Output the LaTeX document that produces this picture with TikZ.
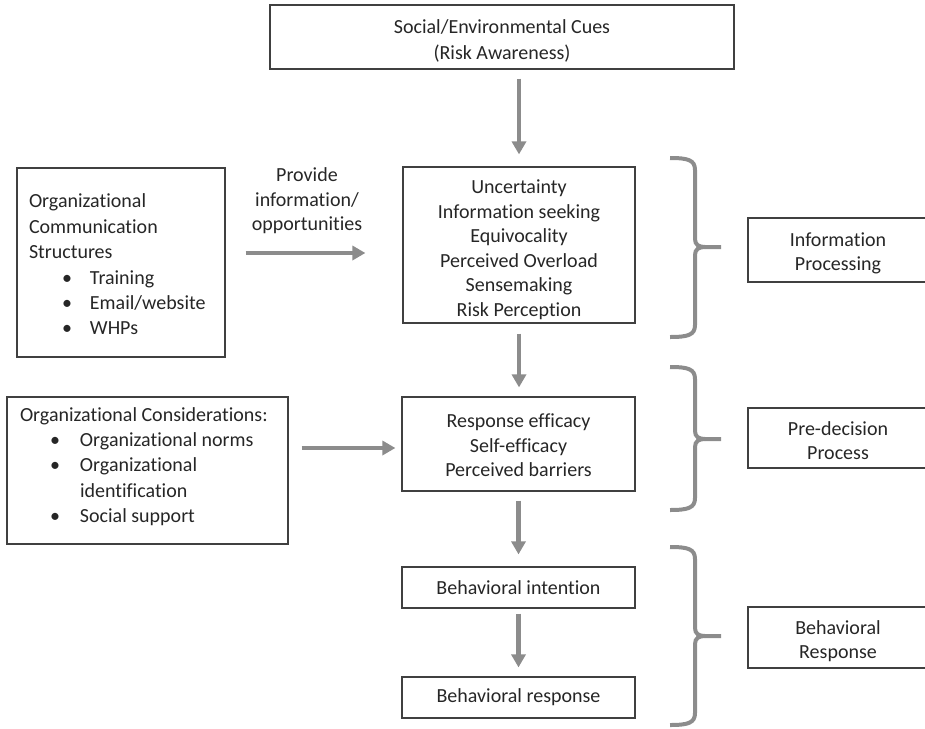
\documentclass[tikz,border=0pt]{standalone}
\usepackage{fontspec}
\setmainfont{Carlito}[Ligatures={NoCommon}]
\usetikzlibrary{arrows.meta,calc}
\definecolor{arrowgray}{HTML}{8C8C8C}
\definecolor{boxline}{HTML}{404040}
\definecolor{txt}{HTML}{262626}
\newcommand\drawbrace[3]{%
  \draw[brace] (670,#1) .. controls (688,#1) and (695,#1+2) .. (695,#1+12) -- (695,#2-8) .. controls (695,#2-2) and (699,#2) .. (705,#2) -- (721,#2);
  \draw[brace] (705,#2) .. controls (699,#2) and (695,#2+2) .. (695,#2+8) -- (695,#3-12) .. controls (695,#3-2) and (688,#3) .. (670,#3);
}
\newcommand\hstrut[1]{\rule{0pt}{#1pt}}
\newcommand\dstrut[1]{\rule[-#1pt]{0pt}{0pt}}
\begin{document}
\begin{tikzpicture}[x=1pt,y=-1pt,
  box/.style={draw=boxline, line width=1.2pt, rectangle, inner sep=0pt, align=center, text=txt, font=\fontsize{20}{24.5}\selectfont},
  lbox/.style={box, align=left, font=\fontsize{20}{25.4}\selectfont},
  arr/.style={draw=arrowgray, line width=4.5pt, -{Triangle[length=13pt,width=14pt]}},
  brace/.style={draw=arrowgray, line width=4pt},
  lbl/.style={text=txt, align=center, inner sep=0pt, font=\fontsize{20}{24.5}\selectfont}]
\useasboundingbox (0,0) rectangle (925,728);

\node[box, font=\fontsize{20}{26}\selectfont, minimum width=464pt, minimum height=64pt] (cues) at (502,37) {\hstrut{22}Social/Environmental Cues\\(Risk Awareness)};
\node[box, minimum width=232pt, minimum height=156pt] (unc) at (519,245) {\hstrut{23}Uncertainty\\Information seeking\\Equivocality\\Perceived Overload\\Sensemaking\\Risk Perception};
\node[lbox, text width=184pt, inner xsep=12pt, minimum height=189pt] (comm) at (121,262.5) {\hstrut{18}Organizational\\Communication\\Structures\\
\hspace*{33pt}\makebox[28pt][l]{•}Training\\
\hspace*{33pt}\makebox[28pt][l]{•}Email/website\\
\hspace*{33pt}\makebox[28pt][l]{•}WHPs};
\node[lbl] (provide) at (307,201) {Provide\\information/\\opportunities};

\node[box, minimum width=233pt, minimum height=94pt] (resp) at (518.5,444) {\hstrut{17}Response efficacy\\Self-efficacy\\Perceived barriers};
\node[lbox, text width=255pt, inner xsep=13pt, minimum height=147pt] (cons) at (147.5,470.5) {Organizational\hspace{4.5pt}Considerations:\\
\hspace*{30pt}\makebox[30pt][l]{•}Organizational\hspace{4.5pt}norms\\
\hspace*{30pt}\makebox[30pt][l]{•}Organizational\\
\hspace*{60pt}identification\\
\hspace*{30pt}\makebox[30pt][l]{•}Social\hspace{4.5pt}support\dstrut{11}};

\node[box, minimum width=233pt, minimum height=41pt] (intent) at (518.5,587.5) {Behavioral intention};
\node[box, minimum width=233pt, minimum height=41pt] (bresp) at (518.5,697.5) {Behavioral response};

\node[box, minimum width=180pt, minimum height=64pt] (ip) at (838,250) {\hstrut{20}Information\\Processing};
\node[box, minimum width=180pt, minimum height=60pt] (pd) at (838,438) {\hstrut{19}Pre-decision\\Process};
\node[box, minimum width=180pt, minimum height=61pt] (br) at (838,637.5) {\hstrut{21}Behavioral\\Response};

\draw[arr, shorten <=9pt, shorten >=12pt] (cues.south -| unc.north) -- (unc.north);
\draw[arr, shorten <=10pt, shorten >=9pt] (unc.south) -- (unc.south |- resp.north);
\draw[arr, shorten <=9pt, shorten >=12pt] (resp.south) -- (intent.north);
\draw[arr, shorten <=5pt, shorten >=9pt] (intent.south) -- (bresp.north);
\draw[arr, shorten <=20pt, shorten >=37pt] ([yshift=9.5pt]comm.east) -- ([yshift=9.5pt]comm.east -| unc.west);
\draw[arr, shorten <=13pt, shorten >=6pt] ([yshift=22.5pt]cons.east) -- ([yshift=22.5pt]cons.east -| resp.west);

\drawbrace{158}{247}{337}
\drawbrace{367}{439}{510}
\drawbrace{547}{636}{725}
\end{tikzpicture}
\end{document}
